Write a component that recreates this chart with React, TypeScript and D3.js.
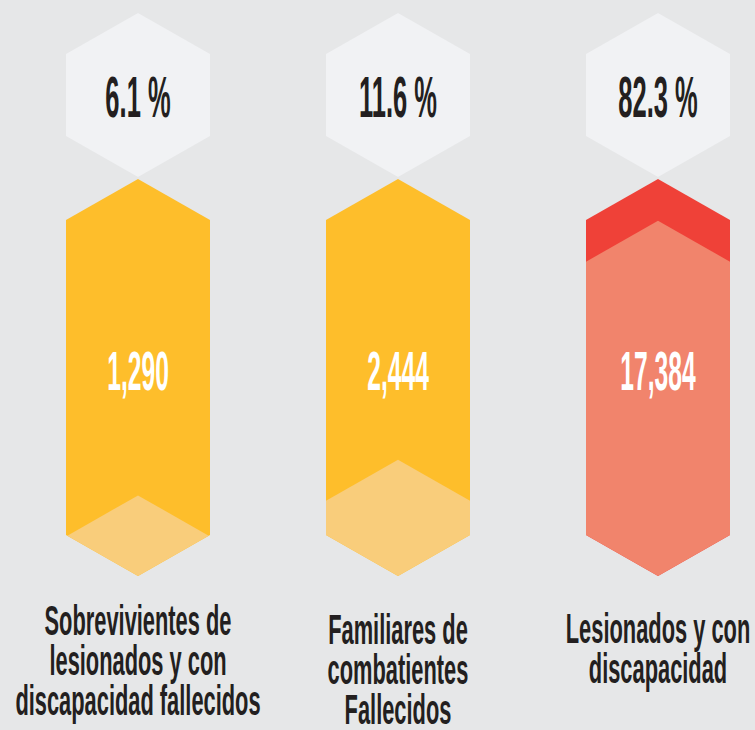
import React from 'react';
import * as d3 from 'd3';

const categories = ['sobrevivientes', 'familiares', 'lesionados'];
const percentages = [6.1, 11.6, 82.3];
const counts = [1290, 2444, 17384];
const labelLines = [
    ['Sobrevivientes de', 'lesionados y con', 'discapacidad fallecidos'],
    ['Familiares de', 'combatientes', 'Fallecidos'],
    ['Lesionados y con', 'discapacidad'],
];

const width = 755;
const height = 730;
const halfW = 72;
const rise = 41;

const yellow = { outer: '#febe2b', fill: '#f9cd7b' };
const red = { outer: '#ef4138', fill: '#f1846c' };
const palette = [yellow, yellow, red];

// label baselines differ a little per column in the original
const labelBase = [635, 644, 643];

function hexPath(cx: number, top: number, bottom: number) {
    const p = d3.path();
    p.moveTo(cx, top);
    p.lineTo(cx + halfW, top + rise);
    p.lineTo(cx + halfW, bottom - rise);
    p.lineTo(cx, bottom);
    p.lineTo(cx - halfW, bottom - rise);
    p.lineTo(cx - halfW, top + rise);
    p.closePath();
    return p.toString();
}

export default function App() {
    const x = d3.scalePoint<string>().domain(categories).range([138, 658]);

    const tallTop = 179;
    const tallBottom = 576;
    const tallH = tallBottom - tallTop;

    // visible height of the fill from the bottom tip
    const fillScale = d3.scalePow().exponent(0.57).domain([0, 100]).range([0, tallH]);

    const fmt = d3.format(',');
    const font = '"Liberation Sans", Arial, sans-serif';

    return (
        <svg width={width} height={height} style={{ position: 'absolute', left: 0, top: 0 }}>
            <rect width={width} height={height} fill="#e6e7e8" />
            <defs>
                {categories.map((c) => (
                    <clipPath id={`clip-${c}`} key={c}>
                        <path d={hexPath(x(c)!, tallTop, tallBottom)} />
                    </clipPath>
                ))}
            </defs>
            {categories.map((c, i) => {
                const cx = x(c)!;
                const offset = tallH - fillScale(percentages[i]);
                return (
                    <g key={c}>
                        <path d={hexPath(cx, 13, 177)} fill="#f1f2f4" />
                        <g transform={`translate(${cx},117) scale(0.44,1)`}>
                            <text textAnchor="middle" fontFamily={font} fontWeight="bold" fontSize={58} fill="#231f20">
                                {`${percentages[i]} %`}
                            </text>
                        </g>

                        <path d={hexPath(cx, tallTop, tallBottom)} fill={palette[i].outer} />
                        <path
                            d={hexPath(cx, tallTop + offset, tallBottom + offset)}
                            fill={palette[i].fill}
                            clipPath={`url(#clip-${c})`}
                        />
                        <g transform={`translate(${cx},390) scale(0.44,1)`}>
                            <text textAnchor="middle" fontFamily={font} fontWeight="bold" fontSize={56} fill="#ffffff">
                                {fmt(counts[i])}
                            </text>
                        </g>

                        {labelLines[i].map((line, j) => (
                            <g key={j} transform={`translate(${cx},${labelBase[i] + j * 40}) scale(0.52,1)`}>
                                <text textAnchor="middle" fontFamily={font} fontWeight="bold" fontSize={42} fill="#231f20">
                                    {line}
                                </text>
                            </g>
                        ))}
                    </g>
                );
            })}
        </svg>
    );
}
